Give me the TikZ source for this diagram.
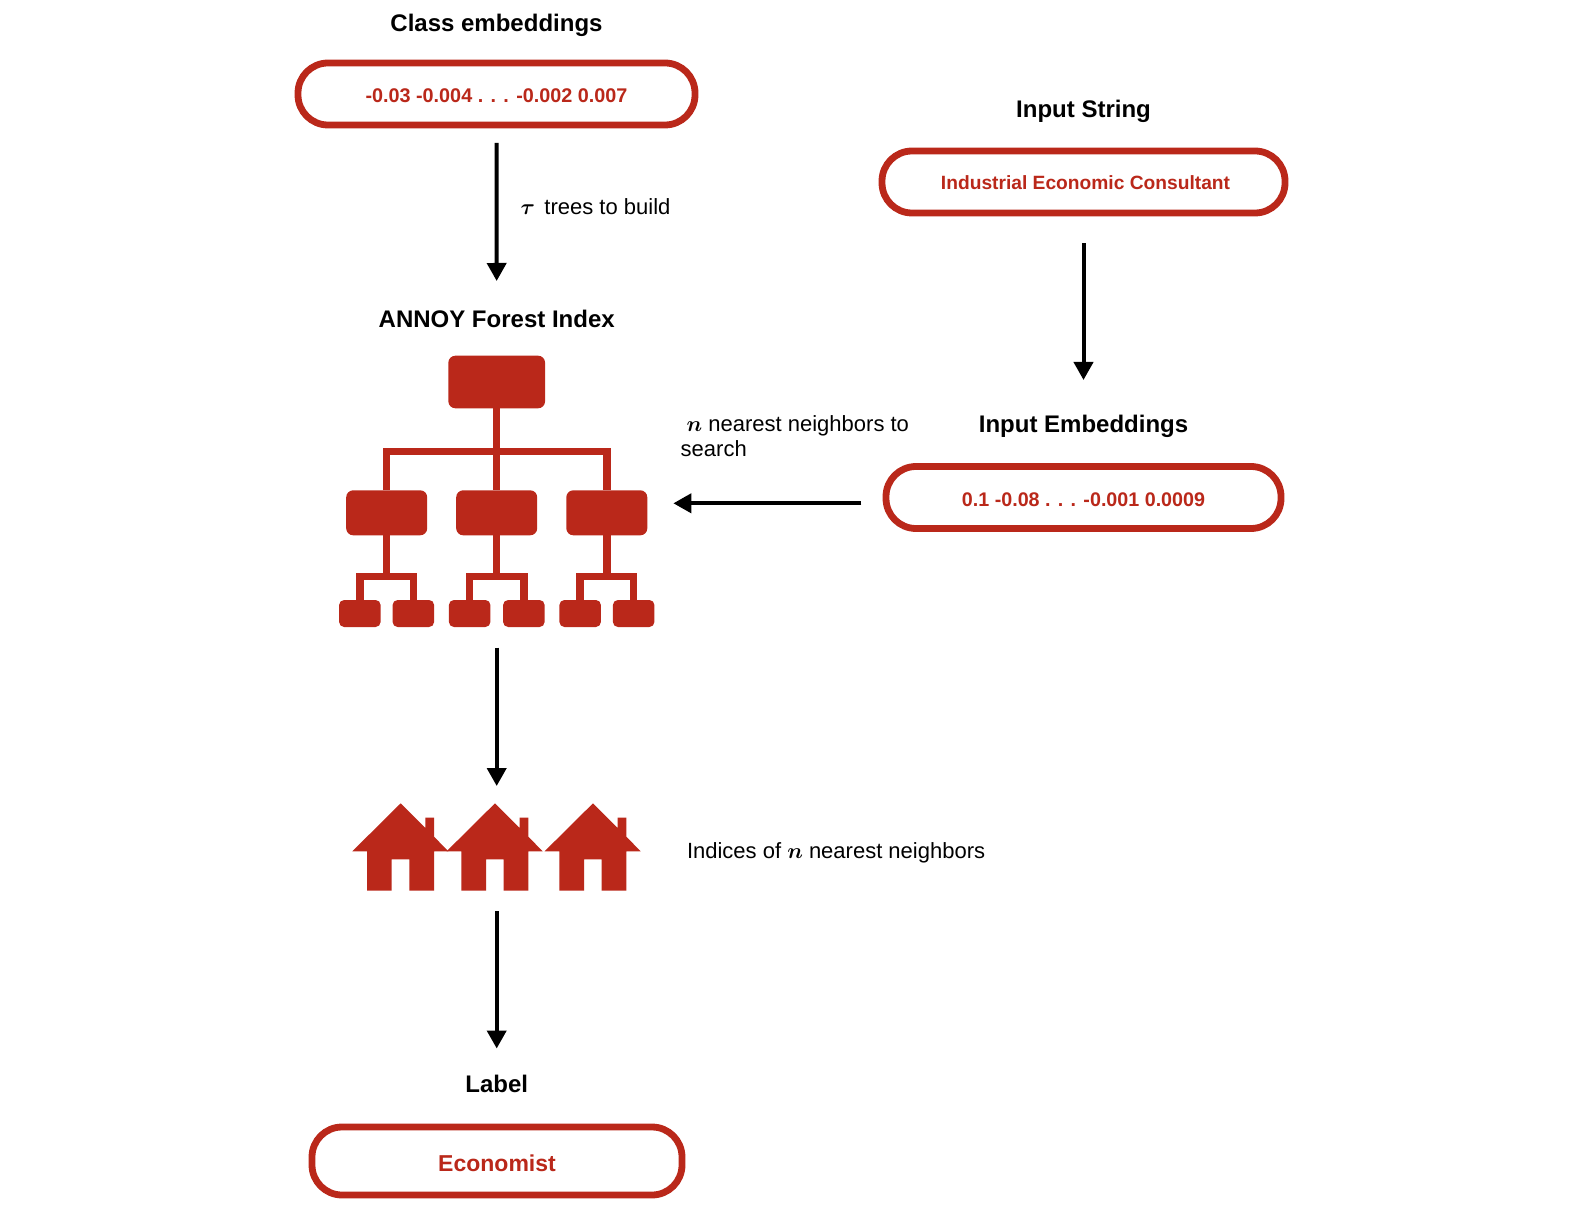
\documentclass[tikz,border=0pt]{standalone}
\usepackage{fontspec}
\setmainfont{Liberation Sans}
\usetikzlibrary{arrows.meta}
\definecolor{brick}{RGB}{186,40,26}
\tikzset{
  capsule/.style={draw=brick,line width=3.4pt,rounded corners=15pt,fill=white,outer sep=0pt,inner sep=0pt,align=center,text=brick,text height=8.7pt,text depth=0pt,font=\fontsize{9.9}{12}\selectfont\bfseries},
  title/.style={inner sep=0pt,outer sep=0pt,text height=9pt,text depth=2.5pt,font=\fontsize{12}{14}\selectfont\bfseries},
  note/.style={inner sep=0pt,outer sep=0pt,anchor=west,align=left,font=\fontsize{11}{12.7}\selectfont\boldmath},
  flow/.style={draw=black,line width=2pt,-{Triangle[length=9pt,width=9.5pt]}},
  treebox/.style={fill=brick,inner sep=0pt,outer sep=0pt},
  treeline/.style={draw=brick,line width=3.7pt},
  rootbox/.style={treebox,minimum width=48.35pt,minimum height=26.3pt,rounded corners=3.5pt},
  midbox/.style={treebox,minimum width=40.5pt,minimum height=22.5pt,rounded corners=3.5pt},
  leafbox/.style={treebox,minimum width=20.75pt,minimum height=13.5pt,rounded corners=2.5pt},
  icon/.style={inner sep=0pt,outer sep=0pt}
}
\begin{document}
\begin{tikzpicture}[x=0.5pt,y=-0.5pt]
\useasboundingbox (0,0) rectangle (1584,1224);

% titles
\node[title] (tClass) at (496.5,25) {Class embeddings};
\node[title] (tAnnoy) at (496.7,321) {ANNOY Forest Index};
\node[title] (tString) at (1083.5,111) {Input String};
\node[title] (tEmb) at (1083.5,426) {Input Embeddings};
\node[title] (tLabel) at (496.7,1086) {Label};

% capsules
\node[capsule,minimum width=198.5pt,minimum height=31pt] (cClass) at (496.5,94) {-0.03 -0.004 . . . -0.002 0.007};
\node[capsule,minimum width=201.5pt,minimum height=31pt,text height=7.9pt,font=\fontsize{9.6}{12}\selectfont\bfseries] (cString) at (1083.5,182) {\hspace*{2pt}Industrial Economic Consultant};
\node[capsule,minimum width=197.5pt,minimum height=31pt,font=\fontsize{9.85}{12}\selectfont\bfseries] (cEmb) at (1083.5,497.5) {0.1 -0.08 . . . -0.001 0.0009};
\node[capsule,minimum width=185pt,minimum height=34pt,text height=10.3pt,font=\fontsize{11.5}{14}\selectfont\bfseries] (cLabel) at (497,1161) {Economist};

% tree icon
\node[icon,minimum width=157.65pt,minimum height=135.65pt] (treeicon) at (496.7,491.35) {};
\node[rootbox] (root) at (496.7,382) {};
\foreach \n/\x in {1/386.7,2/496.7,3/606.8}{
  \node[midbox] (mid\n) at (\x,512.8) {};
}
\foreach \n/\x in {1/359.85,2/413.35,3/469.65,4/523.85,5/580.15,6/633.65}{
  \node[leafbox] (leaf\n) at (\x,613.5) {};
}
\coordinate (barA) at (0,451.7);
\coordinate (barB) at (0,576.3);
\draw[treeline] (root.south) -- (mid2.north);
\draw[treeline] (mid1.north) -- (mid1.north |- barA) -- (mid3.north |- barA) -- (mid3.north);
\foreach \m/\a/\b in {1/1/2,2/3/4,3/5/6}{
  \draw[treeline] (mid\m.south) -- (mid\m.south |- barB);
  \draw[treeline] (leaf\a.north) -- (leaf\a.north |- barB) -- (leaf\b.north |- barB) -- (leaf\b.north);
}

% houses
\node[icon,minimum width=144.5pt,minimum height=43.7pt] (houses) at (496.7,847) {};
\foreach \ax in {400.7,495,593}{
  \fill[brick,shift={(\ax,803.3)}] (0,0) -- (24.6,24.6) -- (24.6,14.4) -- (33.3,14.4) -- (33.3,33.3)
    -- (47.6,48) -- (33.3,48) -- (33.3,87.4) -- (8.6,87.4) -- (8.6,56) -- (-9,56) -- (-9,87.4)
    -- (-33.7,87.4) -- (-33.7,48) -- (-48.4,48) -- cycle;
}

% connectors
\coordinate (hy) at (0,503.3);
\draw[flow,shorten <=9pt,shorten >=14.25pt] (cClass.south) -- (tAnnoy.north);
\draw[flow,shorten <=15.2pt,shorten >=17.25pt] (cString.south) -- (tEmb.north);
\draw[flow,shorten <=12.35pt,shorten >=9.5pt] (cEmb.west |- hy) -- (treeicon.east |- hy);
\draw[flow,shorten <=10.25pt,shorten >=8.65pt] (treeicon.south) -- (houses.north);
\draw[flow,shorten <=10.15pt,shorten >=13pt] (houses.south) -- (tLabel.north);

% notes
\node[note] (nTrees) at (520.7,207) {$\tau$\hspace{4.7pt}trees to build};
\node[note] (nSearch) at (680.7,436) {\hspace*{3pt}$n$ nearest neighbors to\\search};
\node[note] (nIdx) at (687,852.5) {Indices of $n$ nearest neighbors};
\end{tikzpicture}
\end{document}
